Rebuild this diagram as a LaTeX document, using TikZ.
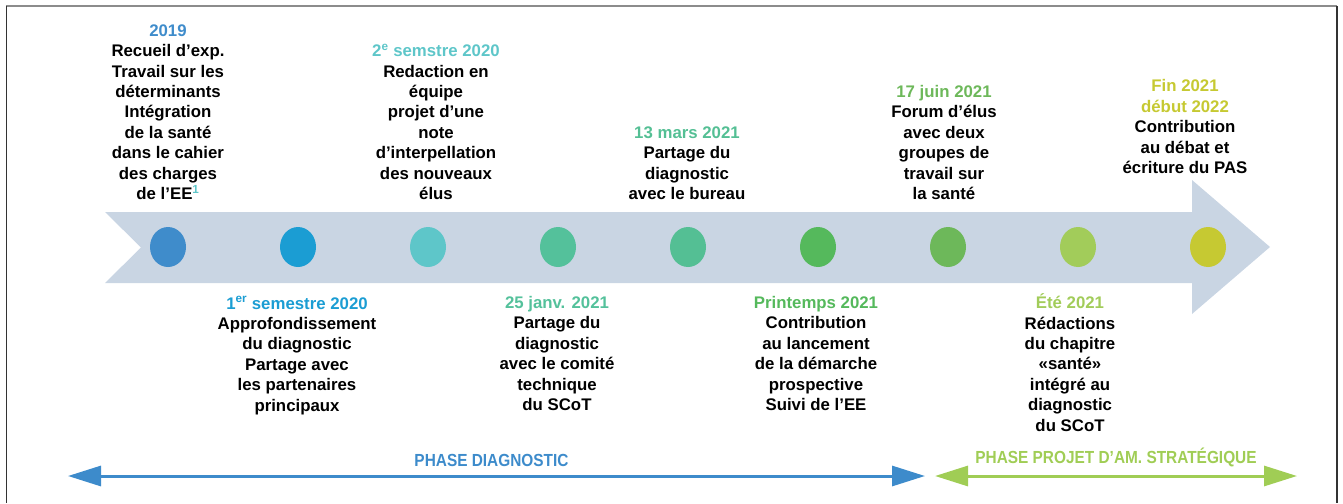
\documentclass[tikz,border=0pt]{standalone}
\usepackage{fontspec}
\setmainfont{Liberation Sans}
\newfontfamily\phasefont[FakeStretch=0.88]{Liberation Sans}
\usetikzlibrary{arrows.meta,positioning,shapes.geometric}

\definecolor{bande}{HTML}{C9D5E3}
\definecolor{jalonA}{HTML}{3F8CCB}
\definecolor{jalonB}{HTML}{1B9DD3}
\definecolor{jalonC}{HTML}{5EC6C9}
\definecolor{jalonD}{HTML}{54C19B}
\definecolor{jalonE}{HTML}{54BF94}
\definecolor{jalonF}{HTML}{55B95C}
\definecolor{jalonG}{HTML}{6DB85A}
\definecolor{jalonH}{HTML}{A2CC5A}
\definecolor{jalonI}{HTML}{C6C932}
\definecolor{phaseDiag}{HTML}{3D8BCB}
\definecolor{phaseProj}{HTML}{A0CD55}

\tikzset{
	jalon/.style={ellipse, minimum width=36pt, minimum height=40pt, inner sep=0pt, fill=#1}, % the dots on the band
	etape/.style={align=center, inner sep=0pt, font=\bfseries\fontsize{16.8}{20.4}\selectfont},
	phase/.style={line width=3pt, draw=#1, {Triangle[length=33pt,width=20pt]}-{Triangle[length=33pt,width=20pt]}},
	phase label/.style={font=\phasefont\bfseries\fontsize{17.5}{20}\selectfont, text=#1, inner sep=0pt, above=8pt},
}

\begin{document}
\begin{tikzpicture}[x=1pt, y=-1pt]
      \useasboundingbox (0,0) rectangle (1343,503);
      % frame
      \draw[line width=2pt, color=black!45] (6,6) -- (1337,6);
      \draw[line width=1.6pt, color=black!80] (6.5,6) -- (6.5,503);
      \draw[line width=1.6pt, color=black!80] (1337,6) -- (1337,503);

      % band
      \fill[bande] (105,212) -- (1192,212) -- (1192,180) -- (1270,247) -- (1192,314)
                   -- (1192,283) -- (105,283) -- (141,247.5) -- cycle;

      \node[jalon=jalonA] (j1) at (168,247) {};
      \node[jalon=jalonB] (j2) at (298,247) {};
      \node[jalon=jalonC] (j3) at (428,247) {};
      \node[jalon=jalonD] (j4) at (558,247) {};
      \node[jalon=jalonE] (j5) at (688,247) {};
      \node[jalon=jalonF] (j6) at (818,247) {};
      \node[jalon=jalonG] (j7) at (948,247) {};
      \node[jalon=jalonH] (j8) at (1078,247) {};
      \node[jalon=jalonI] (j9) at (1208,247) {};

      \node[etape, above=27pt of j1] (t1) {\textcolor{jalonA}{2019}\\ Recueil d’exp.\\ Travail sur les\\ déterminants\\ Intégration\\ de la santé\\ dans le cahier\\ des charges\\ de l’EE\textsuperscript{\textcolor{jalonC}{1}}};
      \node[etape, below=29pt of j2, xshift=-1pt] (t2) {\textcolor{jalonB}{1\textsuperscript{er} semestre 2020}\\ Approfondissement\\ du diagnostic\\ Partage avec\\ les partenaires\\ principaux};
      \node[etape, above=27pt of j3, xshift=8pt] (t3) {\textcolor{jalonC}{2\textsuperscript{e} semstre 2020}\\ Redaction en\\ équipe\\ projet d’une\\ note\\ d’interpellation\\ des nouveaux\\ élus};
      \node[etape, below=29pt of j4, xshift=-1pt] (t4) {\textcolor{jalonD}{25 janv. 2021}\\ Partage du\\ diagnostic\\ avec le comité\\ technique\\ du SCoT};
      \node[etape, above=27pt of j5, xshift=-1pt] (t5) {\textcolor{jalonE}{13 mars 2021}\\ Partage du\\ diagnostic\\ avec le bureau};
      \node[etape, below=29pt of j6, xshift=-2pt] (t6) {\textcolor{jalonF}{Printemps 2021}\\ Contribution\\ au lancement\\ de la démarche\\ prospective\\ Suivi de l’EE};
      \node[etape, above=27pt of j7, xshift=-4pt] (t7) {\textcolor{jalonG}{17 juin 2021}\\ Forum d’élus\\ avec deux\\ groupes de\\ travail sur\\ la santé};
      \node[etape, below=29pt of j8, xshift=-8pt] (t8) {\textcolor{jalonH}{\smash{É}té 2021}\\ Rédactions\\ du chapitre\\ «santé»\\ intégré au\\ diagnostic\\ du SCoT};
      \node[etape, above=53pt of j9, xshift=-23pt] (t9) {\textcolor{jalonI}{Fin 2021}\\ \textcolor{jalonI}{début 2022}\\ Contribution\\ au débat et\\ écriture du PAS};

      % phases
      \coordinate (diagG) at (68,476);
      \coordinate (diagD) at (925,476);
      \coordinate (projG) at (935,476);
      \coordinate (projD) at (1297,476);
      \draw[phase=phaseDiag] (diagG) -- (diagD) node[midway, phase label=phaseDiag, xshift=-5pt] (pdiag) {PHASE DIAGNOSTIC};
      \draw[phase=phaseProj] (projG) -- (projD) node[midway, phase label=phaseProj] (pproj) {PHASE PROJET D’AM. STRATÉGIQUE};
    \end{tikzpicture}
\end{document}
